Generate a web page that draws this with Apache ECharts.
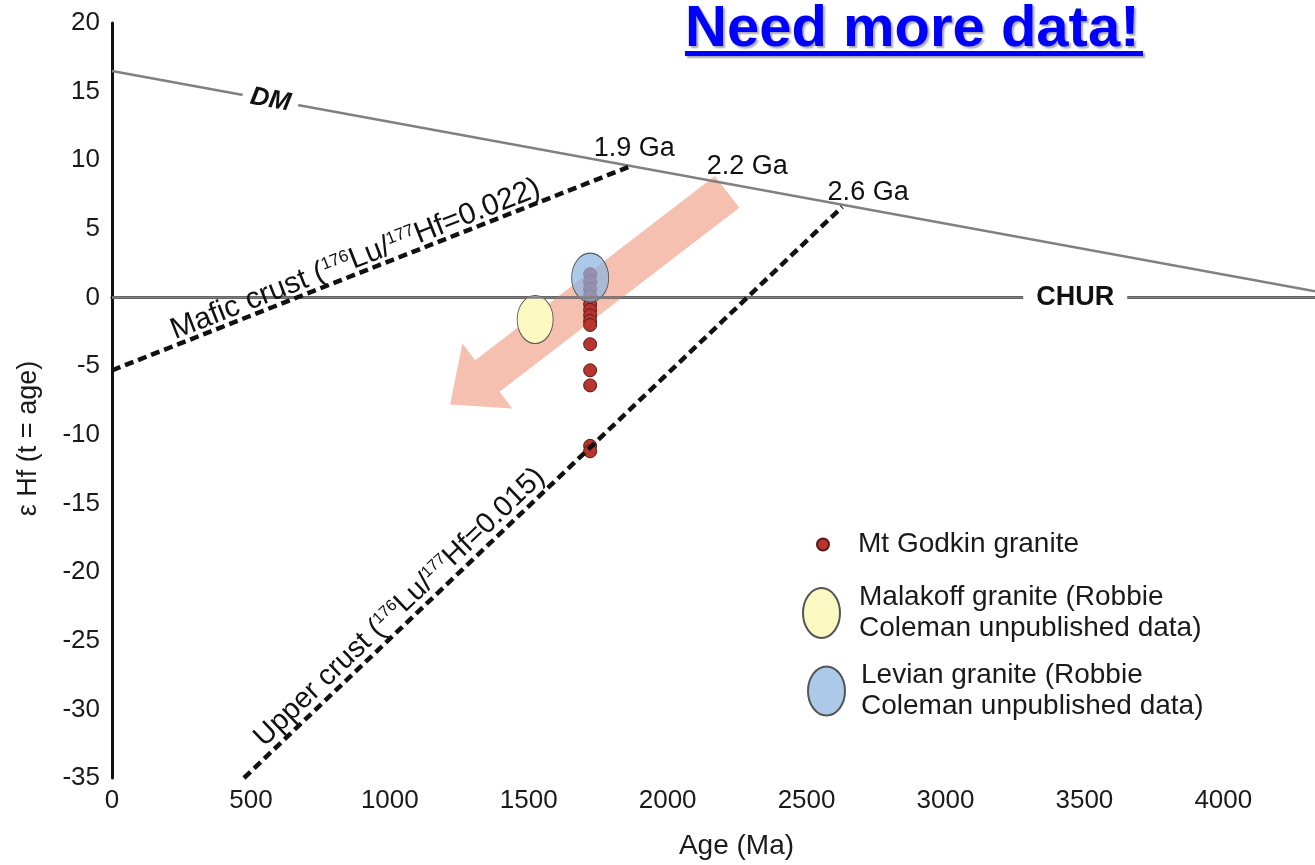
<!DOCTYPE html>
<html><head><meta charset="utf-8">
<script src="https://cdn.jsdelivr.net/npm/echarts@6/dist/echarts.min.js"></script>
<style>html,body{margin:0;padding:0;background:#fff}#c{width:1315px;height:865px}</style>
</head><body><div id="c"></div>
<script>
// ---- data ----
const xTickLabels = [0, 500, 1000, 1500, 2000, 2500, 3000, 3500, 4000];
const yTickLabels = [20, 15, 10, 5, 0, -5, -10, -15, -20, -25, -30, -35];
const dmLine = [[0, 16.5], [4330, 0.45]];
const churLine = [[0, 0], [4330, 0]];
const maficCrust = [[0, -5.3], [1858, 9.5]];
const upperCrust = [[475, -35], [2628, 6.6]];
const godkinAge = 1721;
const godkinEHf = [1.7, 1.15, 0.6, 0.1, -0.5, -0.9, -1.3, -1.7, -2.0, -3.4, -5.3, -6.4, -10.8, -11.2];
const malakoff = [[1523, -1.6]];
const levian = [[1721, 1.45]];
const trendArrow = [[2214, 7.7, 1217, -7.8]];
const gaNames = ['1.9 Ga', '2.2 Ga', '2.6 Ga'];
const gaPoints = [[1858, 9.5], [2200, 8.35], [2628, 6.6]];
const lineLabelAnchors = [[570, 0], [3467, 1], [895, 2], [1075, 3]];

// ---- presentation ----
const FONT = 'Arial';
const lines = [dmLine, churLine, maficCrust, upperCrust];
const gaOffsets = [[6, -19], [24, -16], [26, -14]];
const ellipse = 'path://M0,50 A50,50 0 1 1 100,50 A50,50 0 1 1 0,50 Z';
const NAME_G = 'Mt Godkin granite';
const NAME_M = 'Malakoff granite (Robbie Coleman unpublished data)';
const NAME_L = 'Levian granite (Robbie Coleman unpublished data)';
const richA = {
  t: {fontSize: 30, fontFamily: FONT, fill: '#111'},
  s: {fontSize: 17, fontFamily: FONT, fill: '#111', verticalAlign: 'top'}
};
const richB = {
  t: {fontSize: 29, fontFamily: FONT, fill: '#111'},
  s: {fontSize: 16, fontFamily: FONT, fill: '#111', verticalAlign: 'top'}
};
const labelSpecs = [
  {text: 'DM', font: 'italic bold 26px ' + FONT, bg: '#fff', pad: [2, 8], off: 0},
  {text: 'CHUR', font: 'bold 27px ' + FONT, bg: '#fff', pad: [2, 13], off: 0},
  {text: '{t|Mafic crust (}{s|176}{t|Lu/}{s|177}{t|Hf=0.022)}', rich: richA, size: 30, off: 14},
  {text: '{t|Upper crust (}{s|176}{t|Lu/}{s|177}{t|Hf=0.015)}', rich: richB, size: 29, off: 16}
];

const chart = echarts.init(document.getElementById('c'));
const legendText = (pad) => ({fontSize: 28, color: '#1a1a1a', fontFamily: FONT, lineHeight: 31, padding: [0, 0, 0, pad]});
const splitName = n => n.replace(' Coleman', '\nColeman');

chart.setOption({
  animation: false,
  backgroundColor: '#fff',
  grid: {left: 112, right: 0, top: 23, bottom: 87},
  xAxis: {
    type: 'value', min: 0, max: 4330, interval: 500,
    name: 'Age (Ma)', nameLocation: 'middle', nameGap: 54,
    nameTextStyle: {fontSize: 28, color: '#1a1a1a', fontFamily: FONT, padding: [0, 0, 0, 46]},
    axisLine: {lineStyle: {color: '#111', width: 3}},
    axisTick: {show: false}, splitLine: {show: false},
    axisLabel: {fontSize: 26, color: '#1a1a1a', fontFamily: FONT, margin: 10, showMaxLabel: false,
      formatter: v => xTickLabels.includes(v) ? String(v) : ''}
  },
  yAxis: {
    type: 'value', min: -35, max: 20, interval: 5,
    name: 'ε Hf (t = age)', nameLocation: 'middle', nameGap: 70, nameRotate: 90,
    nameTextStyle: {fontSize: 27, color: '#1a1a1a', fontFamily: FONT, padding: [0, 76, 0, 0]},
    axisLine: {lineStyle: {color: '#111', width: 3}},
    axisTick: {show: false}, splitLine: {show: false},
    axisLabel: {fontSize: 26, color: '#1a1a1a', fontFamily: FONT, margin: 12,
      formatter: v => yTickLabels.includes(v) ? String(v) : ''}
  },
  legend: [
    {data: [NAME_G], left: 816, top: 529, padding: 0, orient: 'vertical', selectedMode: false,
     itemWidth: 12, itemHeight: 12, symbolKeepAspect: false, textStyle: legendText(24)},
    {data: [NAME_M], left: 802, top: 582, padding: 0, orient: 'vertical', selectedMode: false,
     itemWidth: 37, itemHeight: 50, symbolKeepAspect: false, textStyle: legendText(14), formatter: splitName},
    {data: [NAME_L], left: 807, top: 660, padding: 0, orient: 'vertical', selectedMode: false,
     itemWidth: 37, itemHeight: 49, symbolKeepAspect: false, textStyle: legendText(11), formatter: splitName}
  ],
  graphic: [
    {type: 'text', x: 685, y: 30, z: 100,
     style: {text: 'Need more data!', font: 'bold 58px ' + FONT, fill: '#0000ff', verticalAlign: 'middle',
       textShadowColor: 'rgba(0,0,0,0.35)', textShadowBlur: 2, textShadowOffsetX: 2, textShadowOffsetY: 2}},
    {type: 'rect', z: 100, shape: {x: 685, y: 51, width: 458, height: 5},
     style: {fill: '#0000ff', shadowColor: 'rgba(0,0,0,0.35)', shadowBlur: 2, shadowOffsetX: 2, shadowOffsetY: 2}}
  ],
  series: [
    {type: 'line', name: 'DM', data: dmLine, symbol: 'none', silent: true,
     lineStyle: {color: '#808080', width: 2.5}},
    {type: 'line', name: 'CHUR', data: churLine, symbol: 'none', silent: true,
     lineStyle: {color: '#808080', width: 2.5}},
    {type: 'line', name: 'Mafic crust', data: maficCrust, symbol: 'none', silent: true,
     lineStyle: {color: '#111', width: 4.5, type: [9, 5]}},
    {type: 'line', name: 'Upper crust', data: upperCrust, symbol: 'none', silent: true,
     lineStyle: {color: '#111', width: 4.5, type: [9, 5]}},
    {type: 'scatter', name: NAME_M, data: malakoff, symbol: ellipse, symbolSize: [36, 48],
     itemStyle: {color: '#fcf8c2', borderColor: '#555', borderWidth: 1, opacity: 1}},
    {type: 'custom', name: 'trend', data: trendArrow, encode: {x: [0, 2], y: [1, 3]}, silent: true,
     renderItem: (params, api) => {
       const T = api.coord([api.value(0), api.value(1)]);
       const P = api.coord([api.value(2), api.value(3)]);
       const dx = P[0] - T[0], dy = P[1] - T[1];
       const L = Math.hypot(dx, dy), ux = dx / L, uy = dy / L, nx = -uy, ny = ux;
       const hl = 47, sh = 20, hh = 41;
       const B = [P[0] - ux * hl, P[1] - uy * hl];
       const pts = [
         [T[0] + nx * sh, T[1] + ny * sh], [B[0] + nx * sh, B[1] + ny * sh], [B[0] + nx * hh, B[1] + ny * hh],
         P, [B[0] - nx * hh, B[1] - ny * hh], [B[0] - nx * sh, B[1] - ny * sh], [T[0] - nx * sh, T[1] - ny * sh]
       ];
       return {type: 'polygon', shape: {points: pts}, style: {fill: 'rgba(238,130,98,0.5)'}};
     }},
    {type: 'scatter', name: NAME_G, data: godkinEHf.map(v => [godkinAge, v]), symbol: 'circle', symbolSize: 13,
     itemStyle: {color: '#b8352f', borderColor: '#5a1a16', borderWidth: 1, opacity: 1}},
    {type: 'scatter', name: NAME_L, data: levian, symbol: ellipse, symbolSize: [37, 49],
     itemStyle: {color: 'rgba(140,180,225,0.72)', borderColor: '#555', borderWidth: 1, opacity: 1}},
    {type: 'scatter', name: 'ages', data: gaPoints.map((p, i) => ({value: p, name: gaNames[i],
       label: {offset: gaOffsets[i]}})), symbolSize: 0, silent: true, itemStyle: {opacity: 1},
     label: {show: true, position: 'inside', formatter: p => p.name, fontSize: 27, color: '#111',
       fontFamily: FONT, opacity: 1}},
    {type: 'custom', name: 'lineLabels', data: lineLabelAnchors, silent: true, z: 5,
     renderItem: (params, api) => {
       const spec = labelSpecs[params.dataIndex];
       const ln = lines[api.value(1)];
       const age = api.value(0);
       const t = (age - ln[0][0]) / (ln[1][0] - ln[0][0]);
       const y = ln[0][1] + t * (ln[1][1] - ln[0][1]);
       const p0 = api.coord(ln[0]), p1 = api.coord(ln[1]), p = api.coord([age, y]);
       const a = Math.atan2(p1[1] - p0[1], p1[0] - p0[0]);
       const nx = Math.sin(a), ny = -Math.cos(a);
       const style = {text: spec.text, align: 'center', verticalAlign: 'middle', fill: '#111'};
       if (spec.rich) { style.rich = spec.rich; style.font = spec.size + 'px ' + FONT; }
       else { style.font = spec.font; style.backgroundColor = spec.bg; style.padding = spec.pad; }
       return {type: 'text', x: p[0] + nx * spec.off, y: p[1] + ny * spec.off, rotation: -a, style};
     }}
  ]
});
</script></body></html>
